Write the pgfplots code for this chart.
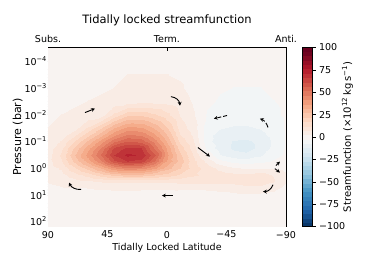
\documentclass[border=0pt]{standalone}
\usepackage{fontspec}
\setmainfont{DejaVu Sans}
\usepackage{pgfplots}
\usepackage{pgfplotstable}
\pgfplotsset{compat=1.18}
\usetikzlibrary{arrows.meta}

\pgfplotsset{
  colormap={rdbushift}{rgb255(0pt)=(9,55,106) rgb255(7pt)=(33,102,172) rgb255(15pt)=(67,147,195) rgb255(23pt)=(146,197,222) rgb255(31pt)=(209,229,240) rgb255(39pt)=(247,247,247) rgb255(47pt)=(253,219,199) rgb255(55pt)=(244,165,130) rgb255(63pt)=(214,96,77) rgb255(71pt)=(178,24,43) rgb255(79pt)=(103,0,31) rgb255(80pt)=(103,0,31)},
  colormap={rdbuforty}{samples of colormap=(41 of rdbushift)},
}

% latitude, pressure (bar), streamfunction
\pgfplotstableread{
x y z
90 3.02e-5 2
80 3.02e-5 2
70 3.02e-5 2
60 3.02e-5 2
50 3.02e-5 2
40 3.02e-5 2
30 3.02e-5 2
20 3.02e-5 2
10 3.02e-5 2
0 3.02e-5 2
-10 3.02e-5 2
-20 3.02e-5 1.5
-30 3.02e-5 1.5
-40 3.02e-5 1
-50 3.02e-5 0.5
-60 3.02e-5 -0.5
-70 3.02e-5 -1.5
-80 3.02e-5 -2
-90 3.02e-5 -2
90 1e-4 2
80 1e-4 2
70 1e-4 2
60 1e-4 2
50 1e-4 2
40 1e-4 2
30 1e-4 2
20 1e-4 2
10 1e-4 2
0 1e-4 2
-10 1e-4 2
-20 1e-4 1.5
-30 1e-4 1
-40 1e-4 0.5
-50 1e-4 -0.5
-60 1e-4 -1.5
-70 1e-4 -2
-80 1e-4 -2
-90 1e-4 -2
90 3.162e-4 2
80 3.162e-4 2
70 3.162e-4 2
60 3.162e-4 2
50 3.162e-4 2
40 3.162e-4 2
30 3.162e-4 2.5
20 3.162e-4 2.5
10 3.162e-4 2.5
0 3.162e-4 2.5
-10 3.162e-4 2
-20 3.162e-4 1
-30 3.162e-4 0.5
-40 3.162e-4 -1
-50 3.162e-4 -2
-60 3.162e-4 -2
-70 3.162e-4 -2
-80 3.162e-4 -2
-90 3.162e-4 -2
90 1e-3 2
80 1e-3 2
70 1e-3 2
60 1e-3 2
50 1e-3 2
40 1e-3 2.5
30 1e-3 3
20 1e-3 3.5
10 1e-3 3.5
0 1e-3 3.5
-10 1e-3 3
-20 1e-3 1
-30 1e-3 -1
-40 1e-3 -2
-50 1e-3 -2.5
-60 1e-3 -2.5
-70 1e-3 -2.5
-80 1e-3 -2
-90 1e-3 -2
90 3.162e-3 2
80 3.162e-3 2
70 3.162e-3 2
60 3.162e-3 2.5
50 3.162e-3 3
40 3.162e-3 3.5
30 3.162e-3 4.5
20 3.162e-3 5.2
10 3.162e-3 5.2
0 3.162e-3 5.2
-10 3.162e-3 4.5
-20 3.162e-3 2
-30 3.162e-3 -1.5
-40 3.162e-3 -3
-50 3.162e-3 -3
-60 3.162e-3 -3
-70 3.162e-3 -3
-80 3.162e-3 -2.5
-90 3.162e-3 -2
90 1e-2 2
80 1e-2 2.5
70 1e-2 3
60 1e-2 3.5
50 1e-2 5
40 1e-2 14
30 1e-2 20.8
20 1e-2 21.3
10 1e-2 18.2
0 1e-2 13.7
-10 1e-2 7
-20 1e-2 3
-30 1e-2 -3
-40 1e-2 -4
-50 1e-2 -4
-60 1e-2 -4
-70 1e-2 -4
-80 1e-2 -3
-90 1e-2 -2
90 3.162e-2 2.5
80 3.162e-2 3.5
70 3.162e-2 5
60 3.162e-2 13.5
50 3.162e-2 21.8
40 3.162e-2 31.8
30 3.162e-2 38.3
20 3.162e-2 37.6
10 3.162e-2 31.3
0 3.162e-2 22.4
-10 3.162e-2 10
-20 3.162e-2 5
-30 3.162e-2 -5
-40 3.162e-2 -7
-50 3.162e-2 -8
-60 3.162e-2 -8
-70 3.162e-2 -7
-80 3.162e-2 -4.5
-90 3.162e-2 -2
90 5.623e-2 3
80 5.623e-2 4.7
70 5.623e-2 10.8
60 5.623e-2 20.6
50 5.623e-2 30.2
40 5.623e-2 40.8
30 5.623e-2 47.1
20 5.623e-2 45.8
10 5.623e-2 37.9
0 5.623e-2 26.7
-10 5.623e-2 12.5
-20 5.623e-2 6.5
-30 5.623e-2 -6
-40 5.623e-2 -9
-50 5.623e-2 -10
-60 5.623e-2 -10
-70 5.623e-2 -9
-80 5.623e-2 -5.5
-90 5.623e-2 -2
90 0.1 3.5
80 0.1 7.7
70 0.1 16.7
60 0.1 27.7
50 0.1 38.6
40 0.1 49.7
30 0.1 56
20 0.1 54
10 0.1 44.5
0 0.1 31
-10 0.1 15.5
-20 0.1 8
-30 0.1 -6
-40 0.1 -9.5
-50 0.1 -12.5
-60 0.1 -13
-70 0.1 -11
-80 0.1 -6.5
-90 0.1 -2
90 0.1778 5
80 0.1778 11
70 0.1778 22.5
60 0.1778 34.8
50 0.1778 47
40 0.1778 62
30 0.1778 67
20 0.1778 66
10 0.1778 51
0 0.1778 35.4
-10 0.1778 19.5
-20 0.1778 10
-30 0.1778 -4
-40 0.1778 -9.5
-50 0.1778 -13
-60 0.1778 -14
-70 0.1778 -11
-80 0.1778 -6
-90 0.1778 -2
90 0.3162 5.5
80 0.3162 13
70 0.3162 26
60 0.3162 39
50 0.3162 52
40 0.3162 66
30 0.3162 72
20 0.3162 70
10 0.3162 58
0 0.3162 38
-10 0.3162 23
-20 0.3162 12
-30 0.3162 1
-40 0.3162 -7
-50 0.3162 -10
-60 0.3162 -11
-70 0.3162 -8
-80 0.3162 -4.5
-90 0.3162 -1.5
90 0.5623 5.5
80 0.5623 11.5
70 0.5623 23
60 0.5623 34
50 0.5623 46
40 0.5623 60
30 0.5623 66
20 0.5623 64
10 0.5623 52
0 0.5623 36
-10 0.5623 25
-20 0.5623 14
-30 0.5623 6
-40 0.5623 -1
-50 0.5623 -4
-60 0.5623 -5
-70 0.5623 -4
-80 0.5623 -2
-90 0.5623 -1
90 1 5
80 1 8
70 1 16
60 1 24
50 1 32
40 1 41
30 1 45
20 1 44
10 1 38
0 1 29
-10 1 22
-20 1 15
-30 1 10
-40 1 6
-50 1 3
-60 1 2
-70 1 2
-80 1 2
-90 1 1
90 1.778 4
80 1.778 5.5
70 1.778 9.5
60 1.778 14
50 1.778 19
40 1.778 23
30 1.778 25
20 1.778 25
10 1.778 22
0 1.778 20
-10 1.778 16
-20 1.778 13
-30 1.778 11
-40 1.778 10
-50 1.778 9
-60 1.778 9
-70 1.778 10
-80 1.778 7
-90 1.778 3
90 3.162 3
80 3.162 4
70 3.162 5.5
60 3.162 7
50 3.162 8
40 3.162 9
30 3.162 9
20 3.162 9
10 3.162 9
0 3.162 9
-10 3.162 9
-20 3.162 9
-30 3.162 9
-40 3.162 9
-50 3.162 9.5
-60 3.162 11
-70 3.162 12
-80 3.162 8
-90 3.162 3
90 5.623 1
80 5.623 2
70 5.623 2
60 5.623 2.5
50 5.623 3
40 5.623 3
30 5.623 3
20 5.623 3
10 5.623 3
0 5.623 3
-10 5.623 3.5
-20 5.623 3.5
-30 5.623 3.5
-40 5.623 4
-50 5.623 4
-60 5.623 5
-70 5.623 5
-80 5.623 4
-90 5.623 1
90 10 -1
80 10 -1
70 10 -0.5
60 10 0.5
50 10 1
40 10 1.5
30 10 1.5
20 10 1
10 10 0.5
0 10 0
-10 10 -0.5
-20 10 -0.5
-30 10 0
-40 10 1
-50 10 1.5
-60 10 1.5
-70 10 1.5
-80 10 1
-90 10 0.5
90 31.62 -2
80 31.62 -1.5
70 31.62 -1
60 31.62 0
50 31.62 0.5
40 31.62 1
30 31.62 1
20 31.62 0.5
10 31.62 -0.5
0 31.62 -1
-10 31.62 -1
-20 31.62 -1
-30 31.62 -1
-40 31.62 -0.5
-50 31.62 0.5
-60 31.62 1
-70 31.62 1
-80 31.62 1
-90 31.62 1
90 154.9 -1
80 154.9 -1
70 154.9 -1
60 154.9 0
50 154.9 1
40 154.9 1
30 154.9 1
20 154.9 0.5
10 154.9 -0.5
0 154.9 -1
-10 154.9 -1
-20 154.9 -1
-30 154.9 -1
-40 154.9 0
-50 154.9 1
-60 154.9 1
-70 154.9 1
-80 154.9 1
-90 154.9 1
}\psidata

\begin{document}
\begin{tikzpicture}
\path (-48pt,-40.3pt) rectangle (326pt,226.5pt);
\begin{axis}[
  at={(0pt,0pt)}, anchor=south west,
  scale only axis, width=238pt, height=179pt,
  clip=false,
  x dir=reverse, xmin=-90, xmax=90,
  ymode=log, y dir=reverse, ymin=3.02e-5, ymax=154.9,
  xtick={90,45,0,-45,-90},
  xticklabels={90,45,0,−45,−90},
  ytick={1e-4,1e-3,1e-2,1e-1,1,10,100},
  yticklabels={10\textsuperscript{−4},10\textsuperscript{−3},10\textsuperscript{−2},10\textsuperscript{−1},10\textsuperscript{0},10\textsuperscript{1},10\textsuperscript{2}},
  xtick pos=left,
  tick align=inside,
  major tick length=3.5pt, minor tick length=2pt,
  every tick/.style={black, line width=0.5pt},
  axis line style={line width=0.8pt},
  tick label style={font=\fontsize{9.5}{11}\selectfont},
  yticklabel style={xshift=2.5pt},
  xticklabel style={yshift=-1pt},
  xlabel={Tidally Locked Latitude},
  xlabel style={font=\fontsize{9.5}{11}\selectfont, yshift=2pt},
  ylabel={Pressure (bar)},
  ylabel style={font=\fontsize{11}{13}\selectfont, at={([xshift=-22pt]rel axis cs:0,0.5)}, anchor=south, rotate=0},
  title={Tidally locked streamfunction},
  title style={font=\fontsize{11.5}{13}\selectfont, at={(0.5,1)}, anchor=base, yshift=18pt},
  colormap name=rdbuforty,
  colormap access=piecewise constant,
  point meta min=-100, point meta max=100,
  colorbar,
  colorbar style={
    at={(parent axis.north east)}, anchor=north west, xshift=7.5pt,
    scale only axis, width=10pt, height=179pt,
    ytick={-100,-75,-50,-25,0,25,50,75,100},
    yticklabels={−100,−75,−50,−25,0,25,50,75,100},
    tick align=outside, ytick pos=right, yticklabel pos=right,
    major tick length=3.5pt,
    axis line style={line width=0.6pt},
    tick label style={font=\fontsize{9.5}{11}\selectfont},
    ylabel={Streamfunction (×10\textsuperscript{12}\,kg\,s\textsuperscript{−1})},
    ylabel style={font=\fontsize{10}{12}\selectfont},
    ylabel shift=-10pt,
  },
]
\addplot[surf, shader=interp, mesh/rows=19, mesh/cols=19, point meta=\thisrow{z}] table[x=x, y=y] {\psidata};

\begin{scope}[line width=0.9pt, black, >={Stealth[length=3.8pt,width=3.8pt]}]
\draw[->] (axis cs:62,8.3e-3) -- (axis cs:54.5,5.9e-3);
\draw[->] (axis cs:-3,2.1e-3) to[bend left=40] (axis cs:-9.8,4.6e-3);
\draw[->, dash pattern=on 4pt off 2pt] (axis cs:-45.4,1.07e-2) -- (axis cs:-35.5,1.4e-2);
\draw[->, dash pattern=on 5pt off 2pt] (axis cs:-76.4,3.0e-2) to[bend right=25] (axis cs:-70.3,1.4e-2);
\draw[->] (axis cs:-23.4,0.17) -- (axis cs:-32.5,0.37);
\draw[->] (axis cs:-82.4,0.80) -- (axis cs:-85.4,0.57);
\draw[->] (axis cs:-81.6,1.05) -- (axis cs:-85.4,1.47);
\draw[->] (axis cs:-80.2,4.2) to[bend left=35] (axis cs:-72.6,7.6);
\draw[->] (axis cs:-4.5,10.7) -- (axis cs:3.8,10.7);
\draw[->] (axis cs:65,6.3) to[bend left=35] (axis cs:74.1,3.5);
\end{scope}

\node[font=\fontsize{9.5}{11}\selectfont, anchor=base] at ([yshift=4.5pt]rel axis cs:0,1) {Subs.};
\node[font=\fontsize{9.5}{11}\selectfont, anchor=base] at ([yshift=4.5pt]rel axis cs:0.5,1) {Term.};
\node[font=\fontsize{9.5}{11}\selectfont, anchor=base] at ([yshift=4.5pt]rel axis cs:1,1) {Anti.};
\draw[line width=0.5pt] (rel axis cs:0.5,1) -- ([yshift=-3.5pt]rel axis cs:0.5,1);
\end{axis}
\end{tikzpicture}
\end{document}
